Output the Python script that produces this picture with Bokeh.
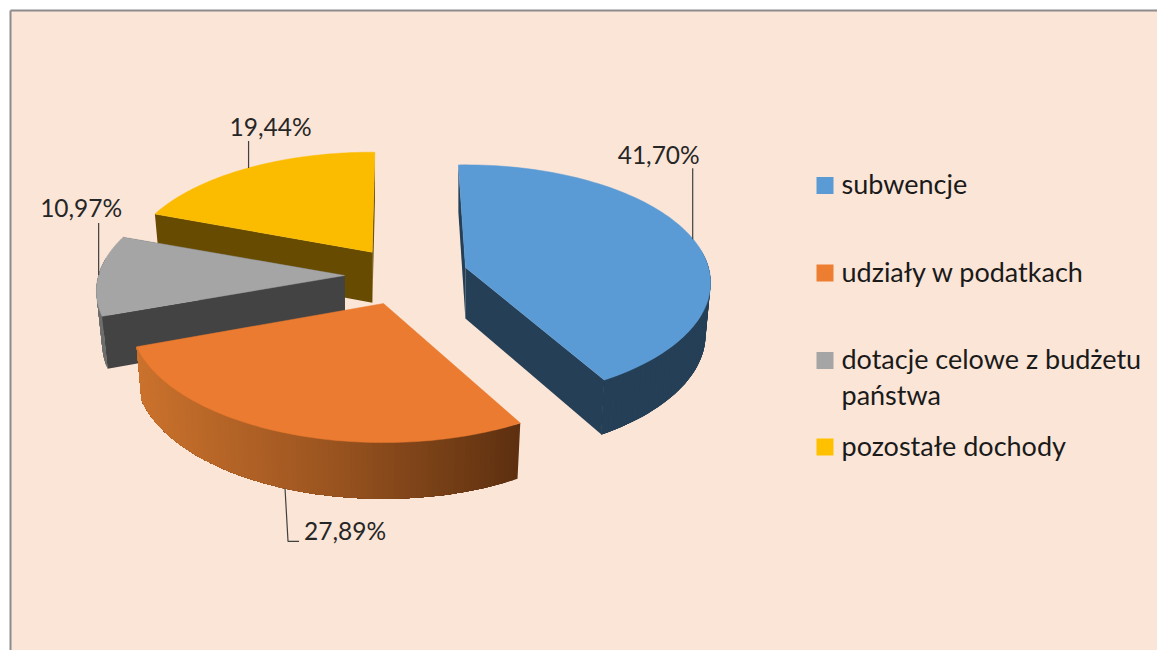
import numpy as np
from bokeh.plotting import figure
from bokeh.models import Range1d
from bokeh.core.properties import value
from bokeh.embed import file_html
from bokeh.resources import INLINE

# ---- data ----
categories = ["subwencje", "udziały w podatkach", "dotacje celowe z budżetu\npaństwa", "pozostałe dochody"]
shares = [41.70, 27.89, 10.97, 19.44]
share_labels = ["41,70%", "27,89%", "10,97%", "19,44%"]

# ---- style ----
top_colors = ["#5b9bd5", "#ea7b30", "#a5a5a5", "#fbbc00"]
legend_colors = ["#5b9bd5", "#ed7d31", "#a5a5a5", "#ffc000"]
wall_colors = ["#243f56", None, "#6f6f6f", "#664b00"]
cut_colors = ["#243f56", None, "#434343", "#664b00"]
BG = "#fbe5d7"
TEXT = "#262626"
FONT = "Lato"

# ---- layout of the exploded 3D pie (screen pixels) ----
apex_x = [465, 383, 344, 371.7]
apex_y = [267, 303, 275, 251.7]
radius_x = [243, 251, 246, 243]
radius_y = [116, 121, 117, 113]
start_nudge = [-1.9, 1.0, 0.0, 0.7]
end_nudge = [-0.6, -0.5, 0.0, 0.7]
vanish_x = [460, 380, 380, 380]
PERSP = 0.13
BOTTOM_SCALE = 0.98

W, H = 1157, 650
p = figure(width=W, height=H, x_range=Range1d(0, W), y_range=Range1d(H, 0),
           toolbar_location=None, output_backend="svg", min_border=0,
           background_fill_color="white", border_fill_color="white", outline_line_color=None)
p.xaxis.visible = False
p.yaxis.visible = False
p.grid.visible = False

# chart area with its top and left rule
p.quad(left=[10], right=[W + 2], top=[10], bottom=[H + 2], fill_color=BG, line_color=None)
p.line([10, 10], [H + 2, 10], line_color="#8c8c8c", line_width=2)
p.line([10, W + 2], [10, 10], line_color="#8c8c8c", line_width=2)


def top_point(i, deg):
    t = np.radians(deg)
    s, c = np.sin(t), np.cos(t)
    w = 1 / (1 + PERSP * c)
    return apex_x[i] + radius_x[i] * s * w, apex_y[i] - radius_y[i] * c * w


def drop(i, x, y):
    x, y = np.asarray(x, float), np.asarray(y, float)
    return vanish_x[i] + (x - vanish_x[i]) * BOTTOM_SCALE, y + 43 + 0.03 * y


def orange_shade(f):
    stops = [(0.0, (0xcb, 0x72, 0x2d)), (0.5, (0x9c, 0x55, 0x20)), (1.0, (0x5e, 0x30, 0x10))]
    for (a, ca), (b, cb) in zip(stops, stops[1:]):
        if f <= b:
            u = (f - a) / (b - a)
            return "#%02x%02x%02x" % tuple(int(round(x + (y - x) * u)) for x, y in zip(ca, cb))
    return "#5e3010"


starts = np.cumsum([0] + [v * 3.6 for v in shares[:-1]])
spans = [v * 3.6 for v in shares]
for i in [3, 2, 1, 0]:
    a0 = starts[i] + start_nudge[i]
    a1 = starts[i] + spans[i] + end_nudge[i]
    ang = np.linspace(a0, a1, 90)
    ax, ay = top_point(i, ang)
    bx, by = drop(i, ax, ay)
    cx, cy = drop(i, apex_x[i], apex_y[i])

    # outer wall
    if wall_colors[i] is None:
        # painted from the dark end to the light end, each strip lying over the next, so no seams show
        xmin, xmax = ax.min(), ax.max()
        for k in range(0, len(ang) - 1):
            col = orange_shade(float((ax[k] - xmin) / (xmax - xmin)))
            p.patch(list(ax[k:]) + list(bx[k:][::-1]), list(ay[k:]) + list(by[k:][::-1]),
                    fill_color=col, line_color=None)
    else:
        # overlapping quads of the part that faces the viewer: no seams, and the wall's
        # silhouette joins the two arcs where they turn
        front = np.nonzero(np.cos(np.radians(ang)) < 0.15)[0]
        if len(front) > 1:
            f0, f1 = front[0], front[-1]
            qx, qy = [], []
            for k in range(f0, f1):
                e = min(k + 5, f1)
                qx.append(list(ax[k:e + 1]) + list(bx[k:e + 1][::-1]))
                qy.append(list(ay[k:e + 1]) + list(by[k:e + 1][::-1]))
            p.patches(qx, qy, fill_color=wall_colors[i], line_color=None)
        # cut faces
        for ex, ey, fx, fy in [(ax[0], ay[0], bx[0], by[0]), (ax[-1], ay[-1], bx[-1], by[-1])]:
            p.patch([apex_x[i], ex, fx, cx], [apex_y[i], ey, fy, cy],
                    fill_color=cut_colors[i], line_color=None)
    # top face
    p.patch([apex_x[i]] + list(ax), [apex_y[i]] + list(ay),
            fill_color=top_colors[i], line_color=top_colors[i], line_width=0.5)

# leaders and data labels, anchored at each slice's mid angle
mids = [starts[i] + spans[i] / 2 + (start_nudge[i] + end_nudge[i]) / 2 for i in range(4)]
LINE = "#404040"
LABEL_PX = "24.5px"
# 41,70%
x0, y0 = top_point(0, mids[0])
p.line([x0 + 2, x0 + 2], [y0 + 3, y0 - 68], line_color=LINE, line_width=1.2)
p.text([x0 - 32], [y0 - 82], text=[share_labels[0]], text_font=value(FONT), text_font_size=LABEL_PX,
       text_color=TEXT, text_align="center", text_baseline="middle")
# 27,89%
x1, y1 = drop(1, *top_point(1, mids[1]))
x1, y1 = float(x1), float(y1)
p.line([x1, x1 + 3, x1 + 14], [y1, y1 + 53, y1 + 53], line_color=LINE, line_width=1.2)
p.text([x1 + 60], [y1 + 42], text=[share_labels[1]], text_font=value(FONT), text_font_size=LABEL_PX,
       text_color=TEXT, text_align="center", text_baseline="middle")
# 10,97%
x2, y2 = top_point(2, mids[2])
p.line([x2, x2], [y2, y2 - 52], line_color=LINE, line_width=1.2)
p.text([x2 - 17.5], [y2 - 67], text=[share_labels[2]], text_font=value(FONT), text_font_size=LABEL_PX,
       text_color=TEXT, text_align="center", text_baseline="middle")
# 19,44%
x3, y3 = top_point(3, mids[3])
p.line([x3, x3], [y3, y3 - 27], line_color=LINE, line_width=1.2)
p.text([x3 + 22], [y3 - 41], text=[share_labels[3]], text_font=value(FONT), text_font_size=LABEL_PX,
       text_color=TEXT, text_align="center", text_baseline="middle")

# legend
legend_square_y = [185, 272.5, 360, 446.5]
legend_line_h = 36
p.rect([824.5] * 4, legend_square_y, width=17, height=17, fill_color=legend_colors, line_color=None)
for c, y in zip(categories, legend_square_y):
    for j, line in enumerate(c.split("\n")):
        p.text([841], [y - 2 + j * legend_line_h], text=[line], text_font=value(FONT), text_font_size="27px",
               text_color="#1a1a1a", text_align="left", text_baseline="middle")

open("out.html", "w").write(file_html(p, INLINE))
